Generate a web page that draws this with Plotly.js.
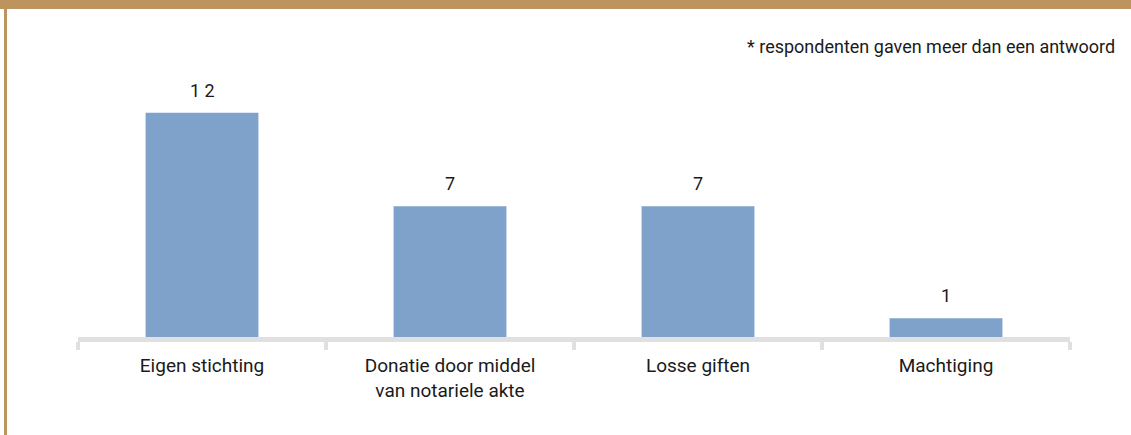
<!DOCTYPE html>
<html>
<head>
<meta charset="utf-8">
<script src="https://cdn.plot.ly/plotly-3.0.1.min.js"></script>
<style>
  html, body { margin: 0; padding: 0; background: #ffffff; }
  #wrap { position: relative; width: 1131px; height: 435px; overflow: hidden; }
  #chart { position: absolute; left: 0; top: 0; width: 1131px; height: 435px; }
  .bar-top { position: absolute; left: 0; top: 0; width: 1131px; height: 9px; background: #bd945e; }
  .bar-left { position: absolute; left: 4px; top: 0; width: 3px; height: 435px; background: #bd945e; }
</style>
</head>
<body>
<div id="wrap">
  <div id="chart"></div>
  <div class="bar-top"></div>
  <div class="bar-left"></div>
</div>
<script>
const categories = ["Eigen stichting", "Donatie door middel<br>van notariele akte", "Losse giften", "Machtiging"];
const values = [12, 7, 7, 1];
const valueLabels = ["1 2", "7", "7", "1"];
const note = "* respondenten gaven meer dan een antwoord";

const FONT = "Roboto, 'Liberation Sans', Arial, sans-serif";

const trace = {
  type: "bar",
  x: categories,
  y: values,
  marker: { color: "#7fa2cb", line: { width: 0 } },
  hoverinfo: "none"
};

const valueAnnotations = categories.map((c, i) => ({
  x: c,
  y: values[i],
  xref: "x", yref: "y",
  text: valueLabels[i],
  showarrow: false,
  xanchor: "center",
  yanchor: "bottom",
  yshift: 10,
  font: { family: FONT, size: 18, color: "#1a1a1a" }
}));

const layout = {
  width: 1131,
  height: 435,
  margin: { l: 78, r: 61, t: 38, b: 98, pad: 0 },
  paper_bgcolor: "#ffffff",
  plot_bgcolor: "#ffffff",
  showlegend: false,
  bargap: 0.545,
  font: { family: FONT, size: 19, color: "#1a1a1a" },
  xaxis: {
    type: "category",
    showline: true,
    linecolor: "#e0e0e0",
    linewidth: 5,
    ticks: "outside",
    tickson: "boundaries",
    ticklen: 8,
    tickwidth: 4,
    tickcolor: "#e0e0e0",
    showgrid: false,
    zeroline: false,
    tickfont: { family: FONT, size: 19, color: "#1a1a1a" },
    ticklabelstandoff: 7,
    fixedrange: true
  },
  yaxis: {
    range: [0, 16],
    visible: false,
    showgrid: false,
    zeroline: false,
    fixedrange: true
  },
  annotations: valueAnnotations.concat([{
    text: note,
    xref: "paper", yref: "paper",
    x: 1.047, y: 0.97,
    xanchor: "right", yanchor: "middle",
    showarrow: false,
    font: { family: FONT, size: 18, color: "#1a1a1a" }
  }])
};

Plotly.newPlot("chart", [trace], layout, { staticPlot: true, displayModeBar: false });
</script>
</body>
</html>
